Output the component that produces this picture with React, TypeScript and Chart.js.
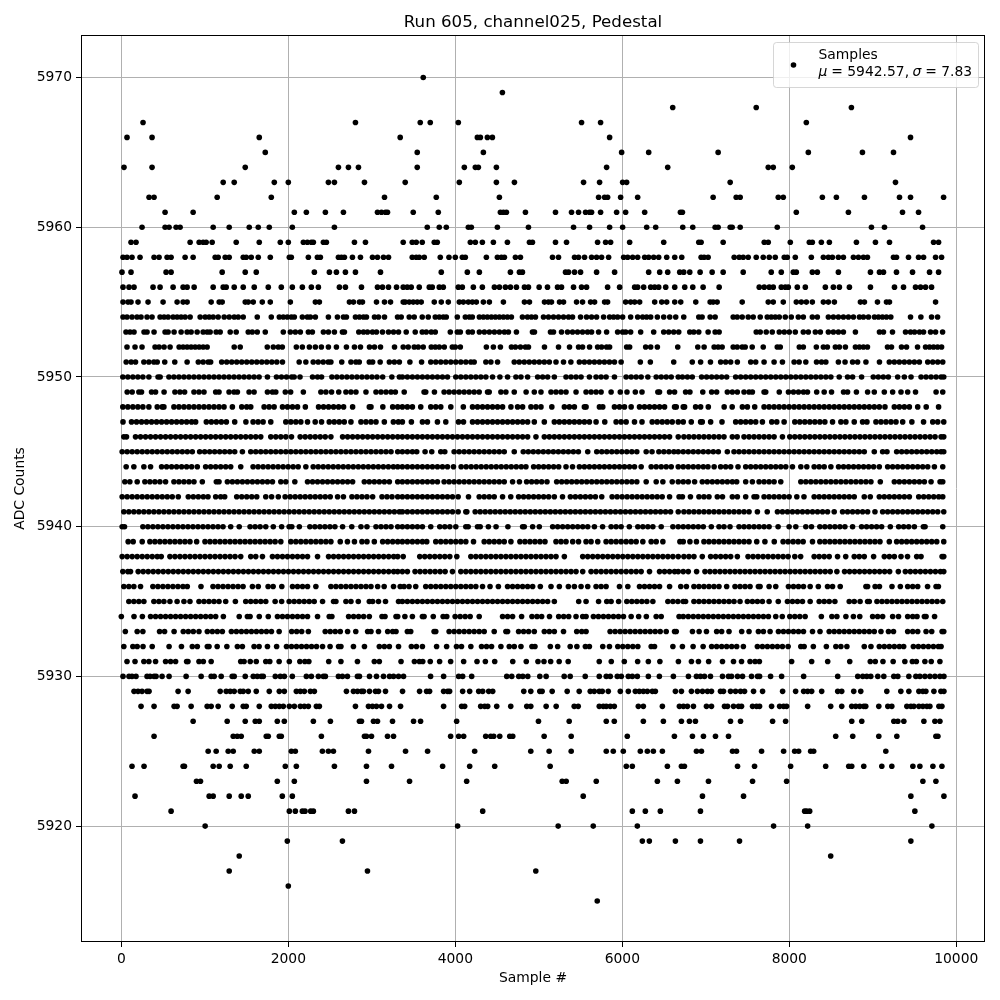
import React, { useEffect, useRef } from "react";
import { Chart, registerables } from "chart.js";

Chart.register(...registerables);

const titleText = "Run 605, channel025, Pedestal";
const xLabel = "Sample #";
const yLabel = "ADC Counts";
const xTicks = [0, 2000, 4000, 6000, 8000, 10000];
const yTicks = [5920, 5930, 5940, 5950, 5960, 5970];

const adc5970 = [3616];
const adc5969 = [4564];
const adc5968 = [6604, 7604, 8744];
const adc5967 = [260, 2804, 3580, 3700, 4036, 5512, 5740, 8204];
const adc5966 = [68, 368, 1652, 3340, 4264, 4300, 4384, 4444, 5848, 9452];
const adc5965 = [1724, 3544, 4336, 5992, 6316, 7148, 8228, 8876, 9248];
const adc5964 = [32, 368, 1484, 2600, 2720, 2840, 3544, 4108, 4240, 4276, 4492, 5812, 6544, 7748, 7808, 8036];
const adc5963 = [1220, 1352, 1832, 2000, 2480, 2552, 2912, 3400, 4048, 4492, 4708, 5536, 5728, 6004, 6052, 7292, 9272];
const adc5962 = [332, 392, 1148, 1796, 3152, 3772, 4528, 5716, 5788, 5824, 5980, 6184, 7088, 7364, 7412, 7868, 7928, 8396, 8564, 8900, 9320, 9452, 9848];
const adc5961 = [524, 860, 2072, 2216, 2444, 2660, 3068, 3116, 3164, 3188, 3496, 3796, 4540, 4576, 4612, 4840, 5200, 5392, 5476, 5560, 5608, 5632, 5740, 5932, 6040, 6268, 6696, 6720, 8084, 8708, 9356, 9548];
const adc5960 = [248, 524, 572, 656, 704, 1100, 1292, 1532, 1640, 1772, 2048, 2552, 3664, 3808, 3892, 4156, 4192, 4504, 4876, 5416, 5608, 5848, 6004, 6292, 6400, 6724, 6844, 7112, 7148, 7292, 7316, 7412, 7856, 8984, 9140, 9596];
const adc5959 = [116, 176, 824, 932, 980, 1016, 1088, 1376, 1652, 1904, 2000, 2180, 2228, 2276, 2300, 2420, 2456, 2792, 2924, 3376, 3484, 3532, 3604, 3748, 3784, 4180, 4240, 4324, 4456, 4624, 4888, 4924, 5200, 5332, 5704, 5800, 5860, 6088, 6496, 6916, 6944, 7208, 7700, 7748, 8012, 8240, 8276, 8384, 8480, 8804, 9032, 9200, 9728, 9788];
const adc5958 = [20, 68, 128, 224, 392, 452, 548, 596, 764, 860, 1124, 1160, 1244, 1292, 1460, 1496, 1556, 1640, 1784, 2012, 2036, 2240, 2348, 2384, 2600, 2636, 2672, 2768, 2864, 3008, 3068, 3140, 3200, 3484, 3532, 3568, 3628, 3820, 3924, 4000, 4084, 4120, 4372, 4504, 4552, 4588, 4720, 4780, 5164, 5236, 5428, 5476, 5548, 5632, 5692, 5752, 5836, 6016, 6064, 6124, 6184, 6268, 6316, 6376, 6436, 6532, 6628, 6712, 6944, 6980, 7028, 7340, 7400, 7448, 7508, 7604, 7688, 7760, 7832, 7940, 7976, 8072, 8264, 8408, 8468, 8516, 8588, 8648, 8768, 8828, 8888, 8936, 9248, 9284, 9428, 9548, 9608, 9752, 9824];
const adc5957 = [8, 116, 536, 596, 1208, 1484, 1616, 2312, 2492, 2576, 2684, 2804, 3104, 3832, 4144, 4288, 4660, 4768, 4804, 5320, 5356, 5428, 5500, 5692, 5908, 6316, 6448, 6544, 6688, 6736, 6808, 6932, 7076, 7208, 7448, 7784, 7904, 8048, 8084, 8276, 8336, 8588, 8972, 9080, 9128, 9284, 9476, 9680, 9788];
const adc5956 = [20, 92, 152, 380, 464, 620, 740, 788, 872, 1100, 1220, 1256, 1352, 1460, 1592, 1760, 1916, 2048, 2168, 2276, 2360, 2612, 2684, 2876, 3068, 3128, 3200, 3296, 3376, 3424, 3472, 3568, 3688, 3724, 3808, 3856, 4036, 4084, 4216, 4324, 4468, 4528, 4600, 4660, 4732, 4828, 4876, 5004, 5104, 5224, 5272, 5416, 5512, 5572, 5824, 5968, 6148, 6184, 6256, 6340, 6388, 6436, 6520, 6628, 6748, 6844, 6968, 7160, 7640, 7700, 7760, 7808, 7904, 7952, 7988, 8096, 8192, 8432, 8528, 8600, 8720, 8972, 9260, 9368, 9512, 9572, 9632, 9704];
const adc5955 = [20, 80, 116, 200, 320, 500, 668, 740, 788, 1076, 1172, 1208, 1484, 1520, 1580, 1688, 1784, 2024, 2324, 2372, 2732, 2780, 2852, 2888, 3056, 3152, 3224, 3376, 3400, 3448, 3496, 3544, 3592, 3748, 3832, 3916, 4048, 4096, 4156, 4204, 4252, 4336, 4408, 4576, 4828, 4888, 5068, 5116, 5152, 5248, 5296, 5452, 5524, 5620, 5668, 5788, 5824, 6040, 6100, 6148, 6208, 6388, 6472, 6532, 6628, 6700, 6880, 7052, 7088, 7136, 7436, 7748, 7808, 7928, 8084, 8144, 8204, 8276, 8408, 8468, 8540, 8852, 8900, 9056, 9164, 9200, 9752];
const adc5954 = [20, 68, 128, 188, 236, 308, 368, 464, 512, 560, 620, 668, 716, 764, 824, 944, 1004, 1052, 1100, 1160, 1232, 1292, 1352, 1400, 1460, 1628, 1796, 1892, 1940, 1988, 2036, 2072, 2168, 2228, 2264, 2324, 2480, 2588, 2660, 2696, 2804, 2852, 2900, 2936, 3032, 3080, 3152, 3308, 3352, 3448, 3508, 3604, 3676, 3760, 3808, 3856, 3892, 4024, 4120, 4168, 4204, 4288, 4336, 4384, 4432, 4480, 4528, 4576, 4624, 4672, 4804, 4864, 4912, 4960, 5056, 5116, 5176, 5236, 5296, 5356, 5404, 5500, 5572, 5632, 5692, 5776, 5848, 5896, 5944, 6004, 6100, 6184, 6244, 6292, 6340, 6420, 6496, 6568, 6640, 6736, 6916, 6956, 7052, 7112, 7328, 7376, 7436, 7508, 7568, 7652, 7736, 7784, 7832, 7880, 7952, 8024, 8108, 8168, 8276, 8336, 8468, 8528, 8588, 8648, 8708, 8768, 8840, 8888, 8948, 9020, 9068, 9116, 9164, 9216, 9452, 9576, 9704, 9776];
const adc5953 = [56, 104, 152, 272, 308, 392, 524, 560, 632, 716, 788, 836, 908, 980, 1028, 1064, 1136, 1184, 1304, 1376, 1520, 1568, 1628, 1724, 1940, 2024, 2084, 2144, 2240, 2288, 2420, 2480, 2552, 2648, 2672, 2844, 2900, 2948, 3008, 3056, 3128, 3200, 3260, 3320, 3412, 3520, 3604, 3652, 3712, 3760, 3940, 4024, 4060, 4156, 4204, 4288, 4348, 4408, 4468, 4528, 4588, 4636, 4732, 4924, 4948, 5140, 5176, 5272, 5344, 5404, 5464, 5524, 5584, 5632, 5716, 5812, 5944, 6004, 6040, 6100, 6220, 6376, 6496, 6556, 6616, 6676, 6808, 6856, 6916, 7028, 7112, 7160, 7604, 7652, 7724, 7796, 7880, 7940, 8000, 8072, 8168, 8228, 8312, 8372, 8468, 8528, 8588, 8648, 8792, 9080, 9128, 9236, 9392, 9452, 9500, 9560, 9608, 9692, 9752, 9836];
const adc5952 = [68, 164, 248, 404, 452, 512, 584, 692, 740, 788, 836, 884, 932, 980, 1028, 1352, 1424, 1748, 1820, 1880, 1928, 2096, 2168, 2252, 2324, 2396, 2480, 2576, 2696, 2792, 2864, 2972, 3032, 3104, 3272, 3376, 3436, 3508, 3556, 3616, 3712, 3760, 3808, 3868, 3964, 4000, 4060, 4372, 4456, 4540, 4672, 4720, 4780, 4840, 4876, 5068, 5236, 5368, 5476, 5524, 5608, 5704, 5752, 5812, 5848, 6052, 6088, 6280, 6340, 6420, 6664, 6904, 6980, 7100, 7148, 7196, 7328, 7376, 7436, 7472, 7556, 7688, 7856, 7892, 8120, 8168, 8324, 8408, 8456, 8552, 8600, 8672, 8792, 8840, 8888, 8936, 9176, 9224, 9344, 9404, 9536, 9632, 9680, 9728, 9776, 9824];
const adc5951 = [58, 118, 170, 270, 330, 390, 430, 520, 640, 788, 922, 980, 1040, 1070, 1202, 1262, 1322, 1382, 1442, 1502, 1562, 1622, 1682, 1742, 1802, 1862, 1930, 2130, 2210, 2298, 2358, 2418, 2478, 2510, 2640, 2750, 2810, 2850, 2970, 3010, 3100, 3210, 3270, 3330, 3456, 3596, 3706, 3766, 3826, 3886, 3946, 4006, 4066, 4126, 4186, 4226, 4366, 4426, 4506, 4706, 4766, 4826, 4886, 4946, 5006, 5066, 5126, 5206, 5296, 5384, 5486, 5546, 5606, 5666, 5726, 5786, 5846, 5906, 5986, 6216, 6336, 6616, 6838, 6938, 7056, 7178, 7238, 7298, 7378, 7538, 7598, 7698, 7818, 7918, 8058, 8118, 8198, 8326, 8386, 8438, 8588, 8668, 8758, 8818, 8918, 9080, 9198, 9258, 9318, 9378, 9438, 9498, 9558, 9658, 9718, 9778, 9838];
const adc5950 = [18, 78, 138, 198, 258, 330, 440, 465, 570, 630, 690, 750, 810, 870, 930, 990, 1050, 1110, 1170, 1230, 1290, 1350, 1410, 1470, 1530, 1590, 1650, 1750, 1858, 1918, 1978, 2040, 2070, 2140, 2290, 2350, 2398, 2522, 2582, 2642, 2702, 2762, 2822, 2882, 2942, 3002, 3062, 3130, 3240, 3330, 3366, 3426, 3486, 3546, 3606, 3666, 3726, 3786, 3846, 3906, 4006, 4066, 4126, 4186, 4246, 4306, 4366, 4446, 4534, 4626, 4726, 4786, 4866, 4986, 5046, 5106, 5186, 5326, 5386, 5446, 5506, 5606, 5686, 5746, 5806, 5906, 6046, 6106, 6166, 6226, 6306, 6406, 6466, 6526, 6586, 6670, 6720, 6780, 6838, 6950, 7010, 7070, 7130, 7190, 7250, 7358, 7418, 7478, 7538, 7598, 7658, 7718, 7778, 7838, 7898, 7958, 8018, 8078, 8138, 8198, 8258, 8318, 8378, 8438, 8498, 8598, 8698, 8758, 8866, 9006, 9066, 9126, 9186, 9298, 9378, 9458, 9578, 9638, 9698, 9758, 9818, 9850];
const adc5949 = [70, 130, 210, 242, 362, 410, 512, 642, 702, 758, 870, 930, 990, 1130, 1170, 1290, 1350, 1390, 1530, 1590, 1750, 1810, 1850, 1964, 2028, 2180, 2390, 2450, 2518, 2604, 2690, 2750, 2810, 2930, 3050, 3110, 3170, 3230, 3282, 3388, 3626, 3646, 3750, 3866, 3926, 3986, 4046, 4106, 4166, 4226, 4286, 4386, 4406, 4546, 4606, 4706, 4848, 4946, 5026, 5146, 5206, 5266, 5326, 5446, 5566, 5626, 5686, 5746, 5866, 5976, 6056, 6156, 6236, 6426, 6446, 6566, 6626, 6758, 6810, 6964, 7070, 7130, 7258, 7318, 7378, 7458, 7518, 7558, 7698, 7718, 7880, 7990, 8050, 8110, 8170, 8218, 8328, 8418, 8506, 8650, 8698, 8804, 8938, 9018, 9138, 9238, 9338, 9418, 9512, 9758, 9838];
const adc5948 = [18, 78, 138, 198, 258, 330, 430, 490, 510, 630, 690, 750, 810, 870, 930, 990, 1050, 1110, 1170, 1230, 1330, 1442, 1502, 1550, 1710, 1770, 1830, 1930, 1990, 2050, 2110, 2204, 2362, 2422, 2482, 2542, 2602, 2662, 2770, 2970, 2990, 3132, 3250, 3310, 3366, 3426, 3486, 3586, 3706, 3766, 3826, 3946, 4096, 4206, 4266, 4326, 4386, 4446, 4506, 4566, 4666, 4746, 4806, 4906, 4966, 5026, 5156, 5306, 5366, 5426, 5546, 5566, 5726, 5766, 5906, 5966, 6026, 6106, 6206, 6266, 6326, 6386, 6446, 6506, 6626, 6646, 6730, 6746, 6878, 6938, 7030, 7220, 7316, 7438, 7498, 7586, 7698, 7758, 7818, 7878, 7938, 7998, 8058, 8118, 8178, 8238, 8298, 8358, 8418, 8478, 8538, 8598, 8658, 8718, 8778, 8838, 8898, 8958, 9018, 9078, 9146, 9258, 9318, 9378, 9438, 9538, 9640, 9788];
const adc5947 = [20, 122, 182, 242, 302, 362, 422, 482, 542, 602, 662, 722, 782, 842, 890, 1018, 1078, 1138, 1198, 1258, 1358, 1492, 1578, 1638, 1698, 1790, 1970, 2030, 2090, 2150, 2230, 2322, 2398, 2490, 2550, 2610, 2670, 2750, 2870, 2930, 2990, 3050, 3150, 3258, 3318, 3366, 3474, 3606, 3666, 3786, 3886, 4038, 4098, 4206, 4266, 4326, 4386, 4446, 4506, 4566, 4626, 4686, 4746, 4806, 4866, 4946, 5066, 5186, 5246, 5306, 5366, 5426, 5486, 5546, 5606, 5686, 5790, 5926, 5986, 6046, 6146, 6236, 6358, 6418, 6478, 6538, 6598, 6670, 6730, 6826, 6938, 6958, 7058, 7194, 7358, 7418, 7478, 7538, 7598, 7678, 7790, 7850, 7938, 8066, 8126, 8186, 8246, 8306, 8366, 8426, 8518, 8618, 8678, 8778, 8878, 8930, 9038, 9098, 9158, 9218, 9278, 9358, 9468, 9608, 9718, 9778, 9850];
const adc5946 = [30, 62, 170, 230, 290, 350, 410, 470, 530, 590, 650, 710, 770, 830, 890, 950, 1010, 1070, 1130, 1190, 1250, 1310, 1370, 1430, 1490, 1550, 1610, 1670, 1790, 1850, 1910, 1970, 2038, 2142, 2202, 2262, 2322, 2382, 2442, 2510, 2650, 2710, 2770, 2830, 2890, 2950, 3010, 3070, 3130, 3190, 3250, 3310, 3366, 3426, 3486, 3546, 3606, 3666, 3726, 3786, 3846, 3906, 3966, 4026, 4086, 4146, 4206, 4266, 4326, 4386, 4446, 4506, 4566, 4626, 4686, 4746, 4806, 4866, 4966, 5066, 5126, 5186, 5246, 5306, 5366, 5426, 5486, 5546, 5606, 5666, 5726, 5786, 5846, 5906, 5966, 6026, 6086, 6146, 6206, 6266, 6326, 6386, 6446, 6506, 6566, 6670, 6738, 6798, 6858, 6918, 6978, 7038, 7098, 7158, 7218, 7318, 7376, 7458, 7518, 7578, 7638, 7698, 7758, 7818, 7918, 8006, 8066, 8126, 8186, 8246, 8306, 8366, 8426, 8486, 8546, 8606, 8666, 8726, 8786, 8846, 8906, 8966, 9026, 9086, 9146, 9206, 9266, 9326, 9386, 9446, 9506, 9566, 9626, 9686, 9746, 9818, 9850];
const adc5945 = [10, 70, 130, 190, 250, 310, 370, 430, 490, 550, 610, 670, 730, 790, 850, 938, 998, 1058, 1118, 1178, 1238, 1298, 1358, 1450, 1550, 1610, 1670, 1730, 1790, 1850, 1910, 1970, 2030, 2090, 2150, 2210, 2270, 2330, 2390, 2450, 2510, 2570, 2630, 2690, 2750, 2810, 2870, 2930, 2990, 3050, 3110, 3170, 3230, 3310, 3366, 3426, 3486, 3538, 3638, 3718, 3826, 3874, 3986, 4046, 4106, 4166, 4226, 4286, 4346, 4406, 4466, 4526, 4586, 4706, 4814, 4874, 4934, 4994, 5054, 5114, 5174, 5234, 5294, 5354, 5414, 5474, 5586, 5694, 5754, 5814, 5874, 5934, 5994, 6054, 6114, 6174, 6286, 6356, 6438, 6498, 6558, 6618, 6670, 6730, 6790, 6850, 6910, 6970, 7030, 7090, 7150, 7258, 7338, 7398, 7458, 7518, 7578, 7638, 7698, 7758, 7818, 7878, 7938, 7998, 8058, 8118, 8178, 8238, 8298, 8358, 8418, 8478, 8538, 8598, 8658, 8718, 8778, 8838, 8898, 9018, 9118, 9170, 9286, 9346, 9406, 9466, 9526, 9586, 9646, 9706, 9766, 9818, 9850];
const adc5944 = [58, 150, 270, 350, 482, 542, 602, 662, 722, 782, 842, 910, 1010, 1070, 1130, 1190, 1250, 1310, 1430, 1578, 1638, 1698, 1758, 1818, 1878, 1938, 1998, 2058, 2118, 2210, 2298, 2358, 2418, 2478, 2538, 2598, 2658, 2718, 2778, 2838, 2898, 2958, 3018, 3078, 3138, 3198, 3258, 3310, 3366, 3426, 3486, 3546, 3606, 3666, 3726, 3786, 3846, 3906, 3978, 4070, 4130, 4190, 4250, 4310, 4370, 4430, 4490, 4550, 4610, 4670, 4730, 4790, 4846, 4938, 4998, 5058, 5118, 5178, 5238, 5326, 5404, 5486, 5546, 5606, 5666, 5726, 5786, 5846, 5906, 5966, 6026, 6086, 6146, 6226, 6346, 6406, 6466, 6526, 6586, 6670, 6730, 6790, 6850, 6910, 6970, 7026, 7100, 7178, 7238, 7298, 7386, 7478, 7538, 7598, 7658, 7718, 7778, 7838, 7898, 7958, 8038, 8138, 8210, 8298, 8358, 8418, 8498, 8590, 8650, 8710, 8770, 8830, 8890, 8950, 9010, 9078, 9178, 9238, 9298, 9358, 9418, 9478, 9538, 9598, 9658, 9738, 9838];
const adc5943 = [42, 102, 190, 282, 342, 402, 462, 530, 630, 690, 750, 810, 870, 970, 1138, 1170, 1270, 1330, 1390, 1450, 1510, 1570, 1630, 1690, 1750, 1810, 1910, 1970, 2078, 2230, 2290, 2350, 2410, 2470, 2530, 2590, 2650, 2710, 2770, 2910, 2970, 3030, 3090, 3150, 3210, 3310, 3366, 3426, 3486, 3546, 3606, 3666, 3726, 3786, 3866, 3926, 3986, 4046, 4106, 4166, 4226, 4286, 4346, 4406, 4466, 4526, 4586, 4686, 4768, 4854, 4914, 4974, 5034, 5098, 5214, 5274, 5334, 5394, 5454, 5514, 5574, 5634, 5694, 5754, 5814, 5874, 5934, 5994, 6054, 6114, 6174, 6286, 6406, 6486, 6598, 6670, 6730, 6790, 6866, 6958, 7018, 7078, 7138, 7198, 7258, 7318, 7370, 7478, 7558, 7638, 7698, 7758, 7818, 7898, 8138, 8198, 8258, 8318, 8378, 8438, 8498, 8558, 8618, 8678, 8738, 8798, 8858, 8918, 8978, 9090, 9258, 9318, 9378, 9438, 9498, 9558, 9618, 9698, 9806, 9838];
const adc5942 = [10, 70, 130, 190, 250, 310, 370, 430, 490, 550, 610, 682, 802, 862, 922, 982, 1038, 1130, 1190, 1238, 1382, 1442, 1502, 1562, 1622, 1730, 1800, 1880, 1962, 2022, 2082, 2142, 2202, 2262, 2322, 2382, 2442, 2502, 2590, 2660, 2762, 2822, 2882, 2942, 3010, 3122, 3182, 3242, 3310, 3366, 3426, 3486, 3546, 3606, 3666, 3726, 3786, 3846, 3906, 3966, 4034, 4158, 4286, 4346, 4406, 4466, 4566, 4664, 4758, 4818, 4878, 4938, 4998, 5058, 5118, 5186, 5284, 5378, 5438, 5498, 5558, 5618, 5678, 5754, 5878, 5938, 5998, 6058, 6118, 6178, 6238, 6298, 6358, 6418, 6478, 6566, 6680, 6720, 6816, 6918, 6978, 7038, 7138, 7200, 7318, 7378, 7478, 7578, 7610, 7698, 7758, 7818, 7878, 7938, 7998, 8090, 8176, 8298, 8358, 8418, 8478, 8538, 8598, 8658, 8718, 8778, 8898, 8970, 9078, 9138, 9198, 9258, 9318, 9378, 9438, 9550, 9610, 9670, 9730, 9790, 9838];
const adc5941 = [30, 90, 150, 210, 270, 330, 390, 450, 510, 570, 630, 690, 750, 810, 870, 930, 990, 1050, 1110, 1170, 1230, 1290, 1350, 1410, 1470, 1530, 1590, 1650, 1710, 1770, 1830, 1890, 1950, 2010, 2070, 2130, 2190, 2250, 2310, 2370, 2430, 2490, 2550, 2610, 2670, 2730, 2790, 2850, 2910, 2970, 3030, 3090, 3150, 3210, 3270, 3330, 3366, 3426, 3486, 3546, 3606, 3666, 3726, 3786, 3846, 3906, 3966, 4034, 4126, 4138, 4238, 4298, 4358, 4418, 4478, 4538, 4598, 4658, 4718, 4778, 4838, 4898, 4958, 5018, 5078, 5138, 5198, 5258, 5318, 5378, 5438, 5498, 5558, 5618, 5678, 5738, 5798, 5858, 5918, 5978, 6038, 6098, 6158, 6218, 6278, 6338, 6398, 6458, 6518, 6578, 6670, 6738, 6798, 6858, 6918, 6978, 7038, 7098, 7158, 7218, 7278, 7338, 7398, 7458, 7518, 7618, 7736, 7858, 7918, 7978, 8038, 8098, 8158, 8218, 8278, 8338, 8398, 8458, 8538, 8638, 8698, 8758, 8818, 8878, 8938, 9026, 9118, 9178, 9238, 9298, 9358, 9418, 9478, 9538, 9598, 9658, 9718, 9778, 9850];
const adc5940 = [10, 38, 258, 318, 378, 438, 498, 558, 618, 678, 738, 798, 858, 918, 978, 1038, 1098, 1158, 1218, 1310, 1412, 1542, 1602, 1662, 1730, 1820, 1920, 2010, 2042, 2132, 2258, 2318, 2378, 2438, 2498, 2558, 2650, 2760, 2870, 2942, 3050, 3110, 3170, 3230, 3310, 3366, 3426, 3486, 3546, 3606, 3706, 3814, 3874, 3934, 4006, 4126, 4154, 4266, 4298, 4396, 4488, 4630, 4806, 4826, 4926, 5006, 5166, 5226, 5286, 5346, 5406, 5466, 5526, 5586, 5666, 5764, 5866, 5926, 5986, 6084, 6186, 6246, 6306, 6366, 6466, 6606, 6670, 6730, 6790, 6850, 6910, 6970, 7066, 7158, 7218, 7290, 7398, 7458, 7518, 7578, 7638, 7698, 7758, 7866, 7998, 8078, 8198, 8266, 8366, 8426, 8486, 8546, 8606, 8666, 8758, 8866, 8926, 8986, 9046, 9106, 9210, 9310, 9370, 9430, 9498, 9606, 9626, 9838];
const adc5939 = [82, 142, 250, 342, 402, 462, 522, 582, 642, 702, 762, 822, 902, 1002, 1062, 1122, 1182, 1242, 1302, 1362, 1422, 1482, 1542, 1602, 1662, 1722, 1782, 1842, 1910, 2030, 2090, 2150, 2210, 2270, 2330, 2390, 2450, 2510, 2622, 2708, 2792, 2882, 2942, 3030, 3130, 3190, 3250, 3310, 3366, 3426, 3486, 3546, 3606, 3658, 3766, 3826, 3886, 3946, 4006, 4066, 4126, 4218, 4346, 4406, 4466, 4526, 4586, 4666, 4774, 4834, 4894, 4954, 5014, 5074, 5206, 5266, 5326, 5406, 5476, 5566, 5626, 5706, 5806, 5866, 5926, 5986, 6046, 6106, 6166, 6246, 6346, 6406, 6486, 6690, 6730, 6810, 6888, 6978, 7038, 7098, 7158, 7218, 7278, 7338, 7398, 7458, 7518, 7610, 7708, 7820, 7926, 7986, 8046, 8106, 8166, 8278, 8366, 8426, 8486, 8546, 8606, 8666, 8726, 8786, 8846, 8906, 8966, 9026, 9086, 9198, 9286, 9346, 9406, 9466, 9526, 9586, 9646, 9706, 9766, 9850];
const adc5938 = [10, 70, 130, 190, 250, 310, 370, 430, 478, 582, 642, 702, 762, 822, 882, 942, 1002, 1062, 1122, 1182, 1242, 1302, 1362, 1430, 1550, 1610, 1690, 1810, 1870, 1930, 1990, 2050, 2110, 2170, 2230, 2350, 2482, 2542, 2602, 2662, 2722, 2782, 2842, 2902, 2962, 3022, 3082, 3142, 3202, 3262, 3310, 3376, 3574, 3634, 3694, 3754, 3814, 3874, 3934, 4018, 4186, 4246, 4306, 4366, 4426, 4486, 4546, 4606, 4666, 4726, 4786, 4846, 4906, 4966, 5026, 5086, 5146, 5206, 5306, 5526, 5586, 5646, 5706, 5766, 5826, 5886, 5946, 6006, 6066, 6126, 6186, 6246, 6306, 6366, 6426, 6486, 6546, 6606, 6670, 6738, 6798, 6858, 6958, 7058, 7118, 7178, 7238, 7298, 7378, 7506, 7566, 7626, 7686, 7746, 7806, 7866, 7926, 7986, 8066, 8136, 8298, 8358, 8418, 8478, 8578, 8676, 8778, 8838, 8898, 9010, 9138, 9198, 9258, 9338, 9416, 9526, 9578, 9830, 9850];
const adc5937 = [18, 78, 110, 202, 262, 322, 382, 442, 502, 562, 622, 682, 742, 802, 862, 922, 982, 1042, 1102, 1162, 1222, 1282, 1342, 1402, 1462, 1522, 1582, 1642, 1702, 1762, 1822, 1882, 1942, 2002, 2062, 2122, 2182, 2242, 2302, 2362, 2422, 2482, 2542, 2602, 2662, 2722, 2782, 2842, 2902, 2962, 3022, 3082, 3142, 3202, 3262, 3310, 3366, 3426, 3518, 3578, 3638, 3698, 3758, 3818, 3878, 3966, 4066, 4126, 4186, 4246, 4306, 4366, 4426, 4486, 4546, 4606, 4666, 4726, 4786, 4846, 4906, 4966, 5026, 5086, 5146, 5206, 5266, 5326, 5386, 5446, 5526, 5626, 5686, 5746, 5806, 5866, 5926, 5986, 6046, 6106, 6166, 6226, 6326, 6446, 6506, 6566, 6626, 6670, 6730, 6790, 6890, 6990, 7050, 7110, 7170, 7230, 7290, 7350, 7410, 7470, 7530, 7590, 7650, 7710, 7770, 7830, 7890, 7950, 8010, 8070, 8130, 8190, 8250, 8310, 8370, 8430, 8490, 8570, 8662, 8722, 8782, 8842, 8902, 8962, 9022, 9082, 9142, 9202, 9306, 9390, 9450, 9510, 9570, 9630, 9690, 9750, 9810, 9850];
const adc5936 = [30, 90, 150, 230, 378, 438, 498, 558, 618, 678, 738, 790, 954, 1098, 1158, 1218, 1278, 1338, 1398, 1458, 1570, 1640, 1758, 1818, 1922, 2050, 2110, 2170, 2230, 2330, 2510, 2570, 2630, 2690, 2750, 2810, 2870, 2930, 2990, 3070, 3148, 3260, 3340, 3386, 3446, 3526, 3646, 3706, 3766, 3826, 3886, 3946, 4006, 4066, 4126, 4186, 4246, 4326, 4416, 4516, 4626, 4686, 4746, 4806, 4866, 4926, 5018, 5146, 5246, 5354, 5426, 5506, 5586, 5686, 5746, 5806, 5966, 6066, 6206, 6266, 6326, 6386, 6446, 6566, 6700, 6768, 6858, 6918, 6978, 7038, 7098, 7158, 7250, 7350, 7410, 7470, 7530, 7630, 7650, 7758, 7838, 7990, 8050, 8110, 8170, 8250, 8348, 8458, 8518, 8610, 8918, 8938, 9028, 9080, 9230, 9330, 9418, 9478, 9538, 9656, 9758, 9786];
const adc5935 = [90, 150, 210, 270, 390, 450, 510, 582, 668, 750, 822, 930, 990, 1050, 1110, 1170, 1250, 1366, 1490, 1550, 1610, 1670, 1730, 1842, 1920, 2010, 2070, 2130, 2190, 2250, 2310, 2410, 2542, 2570, 2690, 2750, 2838, 2970, 3010, 3080, 3164, 3320, 3366, 3426, 3486, 3546, 3606, 3666, 3726, 3786, 3846, 3906, 3966, 4026, 4086, 4146, 4206, 4266, 4326, 4386, 4446, 4506, 4566, 4626, 4686, 4746, 4806, 4866, 4926, 4986, 5046, 5106, 5186, 5478, 5566, 5716, 5814, 5866, 5956, 6054, 6114, 6174, 6234, 6294, 6366, 6546, 6606, 6666, 6730, 6758, 6858, 6918, 6978, 7038, 7098, 7158, 7218, 7278, 7338, 7410, 7498, 7558, 7618, 7678, 7758, 7868, 7978, 8038, 8098, 8158, 8250, 8358, 8418, 8478, 8546, 8718, 8778, 8848, 8938, 8958, 9050, 9110, 9170, 9230, 9290, 9350, 9410, 9470, 9530, 9590, 9650, 9710, 9770, 9838];
const adc5934 = [0, 152, 252, 350, 410, 470, 530, 590, 650, 710, 770, 830, 890, 950, 1010, 1070, 1130, 1222, 1412, 1510, 1542, 1652, 1760, 1870, 1930, 1990, 2050, 2110, 2170, 2230, 2350, 2490, 2522, 2722, 2782, 2842, 2902, 2970, 3122, 3158, 3290, 3310, 3396, 3486, 3606, 3626, 3736, 3854, 3898, 3998, 4058, 4118, 4178, 4286, 4566, 4626, 4686, 4794, 4918, 4978, 5034, 5128, 5238, 5298, 5358, 5446, 5526, 5566, 5654, 5714, 5774, 5834, 5894, 5954, 6014, 6106, 6196, 6288, 6406, 6466, 6680, 6730, 6790, 6850, 6910, 6970, 7030, 7090, 7150, 7210, 7270, 7330, 7390, 7450, 7510, 7570, 7630, 7690, 7750, 7838, 7916, 8006, 8066, 8126, 8190, 8384, 8510, 8570, 8678, 8768, 8844, 8998, 9058, 9118, 9238, 9308, 9418, 9478, 9530, 9618, 9638, 9740];
const adc5933 = [48, 190, 258, 458, 518, 632, 742, 802, 862, 930, 1030, 1090, 1150, 1210, 1318, 1378, 1438, 1498, 1558, 1618, 1678, 1738, 1798, 1890, 2040, 2100, 2160, 2240, 2442, 2502, 2562, 2622, 2710, 2808, 2950, 2990, 3080, 3190, 3250, 3290, 3426, 3466, 3746, 3766, 3926, 3986, 4046, 4106, 4166, 4226, 4286, 4346, 4466, 4606, 4626, 4758, 4818, 4878, 4946, 5066, 5126, 5186, 5296, 5454, 5514, 5566, 5854, 5914, 5974, 6034, 6094, 6154, 6214, 6274, 6334, 6394, 6454, 6526, 6626, 6646, 6840, 6920, 7008, 7130, 7190, 7278, 7430, 7518, 7630, 7690, 7770, 7870, 7930, 7990, 8050, 8110, 8170, 8278, 8368, 8478, 8538, 8598, 8658, 8718, 8778, 8838, 8898, 8958, 9018, 9098, 9188, 9248, 9418, 9478, 9538, 9638, 9706, 9830, 9850];
const adc5932 = [30, 138, 190, 260, 370, 572, 720, 850, 910, 1030, 1050, 1148, 1264, 1390, 1450, 1590, 1650, 1750, 1860, 1978, 2038, 2098, 2158, 2218, 2278, 2338, 2410, 2500, 2602, 2630, 2780, 2912, 3090, 3150, 3210, 3320, 3474, 3534, 3606, 3776, 3896, 4014, 4074, 4186, 4314, 4374, 4434, 4546, 4646, 4706, 4786, 4918, 4954, 5138, 5226, 5376, 5456, 5558, 5606, 5766, 5846, 5946, 6006, 6066, 6126, 6186, 6346, 6386, 6606, 6720, 6848, 6968, 7070, 7130, 7190, 7250, 7310, 7370, 7450, 7618, 7678, 7738, 7798, 7858, 7918, 7986, 8138, 8178, 8288, 8444, 8558, 8618, 8690, 8898, 8978, 9078, 9138, 9198, 9258, 9318, 9370, 9486, 9546, 9606, 9666, 9726, 9786, 9818];
const adc5931 = [68, 164, 270, 330, 410, 530, 590, 650, 782, 798, 930, 982, 1076, 1430, 1470, 1544, 1616, 1730, 1778, 1890, 2012, 2138, 2198, 2246, 2484, 2630, 2828, 3030, 3090, 3350, 3510, 3570, 3610, 3700, 3812, 3944, 4100, 4260, 4360, 4472, 4688, 4850, 4990, 5062, 5142, 5244, 5352, 5724, 5868, 6024, 6184, 6312, 6450, 6672, 6828, 6912, 7034, 7200, 7332, 7428, 7530, 7590, 7642, 8028, 8268, 8460, 8724, 8970, 9030, 9122, 9244, 9384, 9474, 9522, 9624, 9700, 9804];
const adc5930 = [20, 92, 128, 176, 308, 344, 392, 416, 488, 572, 776, 956, 1076, 1112, 1196, 1328, 1352, 1484, 1580, 1628, 1676, 1700, 1844, 1904, 1952, 2048, 2216, 2276, 2360, 2420, 2444, 2600, 2648, 2708, 2828, 2852, 2972, 3056, 3140, 3212, 3260, 3320, 3380, 3704, 3860, 4040, 4088, 4196, 4616, 4676, 4760, 4808, 4868, 5012, 5088, 5304, 5376, 5556, 5724, 5808, 5856, 5940, 5988, 6072, 6120, 6180, 6312, 6444, 6612, 6792, 6888, 6936, 6984, 7056, 7200, 7272, 7308, 7380, 7440, 7548, 7620, 7644, 7776, 7908, 8172, 8580, 8820, 8880, 8928, 8976, 9060, 9132, 9252, 9300, 9432, 9516, 9564, 9624, 9684, 9744, 9804, 9852];
const adc5929 = [152, 200, 248, 308, 332, 680, 800, 1184, 1256, 1304, 1352, 1424, 1460, 1520, 1616, 1772, 1892, 1952, 2096, 2144, 2192, 2264, 2312, 2696, 2780, 2828, 2876, 2900, 2972, 3044, 3080, 3164, 3368, 3572, 3656, 3692, 3860, 3908, 3932, 4088, 4172, 4280, 4328, 4400, 4448, 4820, 4904, 5012, 5040, 5160, 5340, 5484, 5616, 5664, 5724, 5760, 5832, 5976, 6072, 6156, 6204, 6252, 6300, 6360, 6396, 6636, 6708, 6828, 6900, 6960, 7020, 7068, 7176, 7212, 7296, 7356, 7416, 7464, 7572, 7680, 7920, 8076, 8172, 8220, 8268, 8388, 8580, 8628, 8772, 8856, 9168, 9336, 9432, 9552, 9600, 9636, 9732, 9816, 9852];
const adc5928 = [236, 392, 632, 668, 836, 1028, 1076, 1160, 1328, 1460, 1496, 1652, 1796, 1844, 1892, 1940, 2012, 2072, 2144, 2192, 2240, 2336, 2372, 2804, 2960, 3008, 3056, 3116, 3212, 3344, 3860, 4076, 4112, 4304, 4352, 4388, 4496, 4664, 4856, 4904, 5088, 5208, 5424, 5472, 5724, 5772, 5808, 5856, 5904, 6192, 6252, 6480, 6684, 6732, 6780, 6852, 7008, 7068, 7224, 7260, 7332, 7392, 7428, 7560, 7608, 7644, 7788, 7884, 7932, 7968, 8220, 8496, 8628, 8748, 8796, 8844, 8892, 8916, 9072, 9180, 9228, 9408, 9456, 9492, 9552, 9600, 9648, 9684, 9792, 9828];
const adc5927 = [860, 1268, 1484, 1604, 1652, 1868, 1952, 2300, 2504, 2852, 2876, 3020, 3068, 3248, 3500, 3584, 4016, 4996, 5364, 5808, 5904, 6252, 6492, 6708, 6804, 6876, 7296, 7416, 7800, 7956, 8748, 8868, 9252, 9300, 9372, 9612, 9744, 9804];
const adc5926 = [392, 1340, 1388, 1436, 1736, 1760, 1892, 1916, 2396, 2912, 2936, 2996, 3188, 3260, 3944, 4040, 4100, 4364, 4424, 4460, 4532, 4652, 4688, 5064, 5388, 6060, 6624, 6840, 6972, 7116, 7272, 8556, 8760, 9072, 9288, 9756, 9780];
const adc5925 = [1040, 1136, 1280, 1340, 1592, 1652, 2036, 2084, 2408, 2480, 2540, 2960, 3404, 3668, 4232, 4904, 5124, 5388, 5808, 5892, 6012, 6216, 6300, 6372, 6480, 6888, 6948, 7320, 7368, 7668, 7932, 8064, 8112, 8256, 8292, 9156];
const adc5924 = [128, 272, 740, 756, 1100, 1172, 1304, 1496, 1964, 2096, 2552, 2936, 3236, 3848, 4172, 4472, 5136, 6048, 6120, 6540, 6708, 6744, 7380, 7584, 8016, 8436, 8712, 8748, 8892, 9108, 9228, 9480, 9564, 9720, 9828];
const adc5923 = [900, 948, 1868, 2072, 2936, 3452, 4136, 5280, 5328, 5688, 6420, 6660, 7032, 7560, 7968, 9600, 9756];
const adc5922 = [164, 1052, 1100, 1292, 1436, 1520, 1928, 2048, 5532, 6960, 7452, 9456, 9852];
const adc5921 = [596, 2012, 2084, 2168, 2200, 2268, 2300, 2720, 2792, 4328, 6120, 6276, 6456, 6936, 8184, 8208, 8244, 9504];
const adc5920 = [1004, 4028, 5232, 5652, 6180, 7812, 8220, 9708];
const adc5919 = [1988, 2648, 6240, 6324, 6636, 6936, 7404, 9456];
const adc5918 = [1412, 8496];
const adc5917 = [1292, 2948, 4964];
const adc5916 = [2000];
const adc5915 = [5700];

const levels: [number, number[]][] = [
  [5970, adc5970], [5969, adc5969], [5968, adc5968], [5967, adc5967], [5966, adc5966], [5965, adc5965],
  [5964, adc5964], [5963, adc5963], [5962, adc5962], [5961, adc5961], [5960, adc5960], [5959, adc5959],
  [5958, adc5958], [5957, adc5957], [5956, adc5956], [5955, adc5955], [5954, adc5954], [5953, adc5953],
  [5952, adc5952], [5951, adc5951], [5950, adc5950], [5949, adc5949], [5948, adc5948], [5947, adc5947],
  [5946, adc5946], [5945, adc5945], [5944, adc5944], [5943, adc5943], [5942, adc5942], [5941, adc5941],
  [5940, adc5940], [5939, adc5939], [5938, adc5938], [5937, adc5937], [5936, adc5936], [5935, adc5935],
  [5934, adc5934], [5933, adc5933], [5932, adc5932], [5931, adc5931], [5930, adc5930], [5929, adc5929],
  [5928, adc5928], [5927, adc5927], [5926, adc5926], [5925, adc5925], [5924, adc5924], [5923, adc5923],
  [5922, adc5922], [5921, adc5921], [5920, adc5920], [5919, adc5919], [5918, adc5918], [5917, adc5917],
  [5916, adc5916], [5915, adc5915],
];

const FONT = '"DejaVu Sans"';

const framePlugin = {
  id: "frame",
  afterDraw(chart: any) {
    const { ctx, chartArea: a } = chart;
    ctx.save();
    ctx.strokeStyle = "#000";
    ctx.lineWidth = 1;
    ctx.strokeRect(Math.round(a.left) + 0.5, Math.round(a.top) + 0.5, Math.round(a.right - a.left) - 1, Math.round(a.bottom - a.top) - 1);

    // legend box
    const lx = 773.5, ly = 42.5, lw = 205, lh = 45;
    ctx.beginPath();
    ctx.roundRect(lx, ly, lw, lh, 3);
    ctx.fillStyle = "rgba(255,255,255,0.8)";
    ctx.fill();
    ctx.strokeStyle = "rgba(204,204,204,0.8)";
    ctx.stroke();
    ctx.beginPath();
    ctx.arc(793.5, 65, 2.8, 0, Math.PI * 2);
    ctx.fillStyle = "#000";
    ctx.fill();
    ctx.textBaseline = "alphabetic";
    ctx.textAlign = "left";
    ctx.font = `13.89px ${FONT}`;
    ctx.fillText("Samples", 818.5, 59);
    let tx = 818.5;
    const seg = (t: string, italic: boolean, after: number) => {
      ctx.font = `${italic ? "italic " : ""}13.89px ${FONT}`;
      ctx.fillText(t, tx, 76);
      tx += ctx.measureText(t).width + after;
    };
    seg("\u03bc", true, -0.5);
    seg(" = 5942.57, ", false, -1);
    seg("\u03c3", true, -0.5);
    seg(" = 7.83", false, 0);
    ctx.restore();
  },
};

export default function App() {
  const ref = useRef<HTMLCanvasElement | null>(null);
  useEffect(() => {
    document.body.style.margin = "0";
    const points = levels.flatMap(([y, xs]) => xs.map((x) => ({ x, y })));
    const chart = new Chart(ref.current as HTMLCanvasElement, {
      type: "scatter",
      data: {
        datasets: [
          {
            label: "Samples",
            data: points,
            backgroundColor: "#000",
            borderColor: "#000",
            pointRadius: 2.8,
            pointBorderWidth: 0,
            pointHoverRadius: 2.8,
          },
        ],
      },
      options: {
        animation: false,
        responsive: false,
        devicePixelRatio: 1,
        layout: { padding: { left: 0, right: 15, top: 0, bottom: 0 } },
        plugins: {
          legend: { display: false },
          tooltip: { enabled: false },
          title: {
            display: true,
            text: titleText,
            color: "#000",
            fullSize: false,
            font: { family: FONT, size: 16.67, weight: "normal" },
            padding: { top: 13, bottom: 2 },
          },
        },
        scales: {
          x: {
            type: "linear",
            min: -483,
            max: 10344,
            afterBuildTicks: (s: any) => { s.ticks = xTicks.map((value) => ({ value })); },
            afterFit: (s: any) => { s.height = 58; },
            grid: { color: "#b0b0b0", lineWidth: 1, tickColor: "#000", tickLength: 5, tickWidth: 1 },
            border: { display: false },
            ticks: { color: "#000", font: { family: FONT, size: 13.89 }, padding: 4, maxRotation: 0, autoSkip: false, callback: (v: any) => String(v) },
            title: { display: true, text: xLabel, color: "#000", font: { family: FONT, size: 13.89 }, padding: { top: 4, bottom: 13 } },
          },
          y: {
            type: "linear",
            min: 5912.26,
            max: 5972.84,
            afterBuildTicks: (s: any) => { s.ticks = yTicks.map((value) => ({ value })); },
            afterFit: (s: any) => { s.width = 81; },
            grid: { color: "#b0b0b0", lineWidth: 1, tickColor: "#000", tickLength: 5, tickWidth: 1 },
            border: { display: false },
            ticks: { color: "#000", font: { family: FONT, size: 13.89 }, padding: 4, autoSkip: false, callback: (v: any) => String(v) },
            title: { display: true, text: yLabel, color: "#000", font: { family: FONT, size: 13.89 }, padding: { top: 12, bottom: 0 } },
          },
        },
      },
      plugins: [framePlugin],
    } as any);
    return () => chart.destroy();
  }, []);
  return (
    <div style={{ width: 1000, height: 1000 }}>
      <canvas ref={ref} width={1000} height={1000} style={{ display: "block" }} />
    </div>
  );
}
